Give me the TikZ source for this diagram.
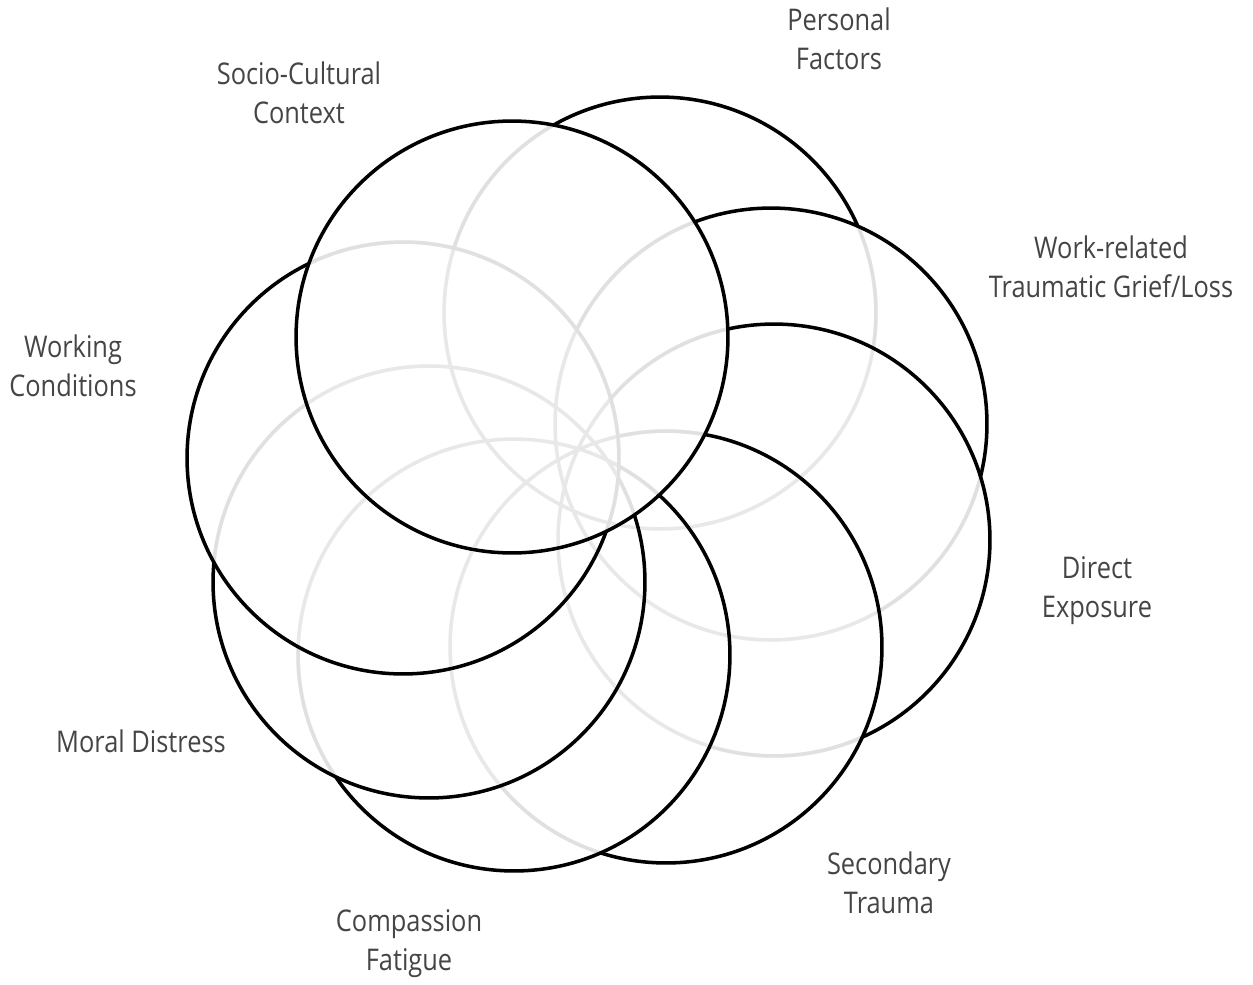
\documentclass[tikz,border=0pt]{standalone}
\usepackage{fontspec}
\setmainfont{Open Sans}[FakeStretch=0.85]
\definecolor{labelgray}{HTML}{454545}
\begin{document}
\begin{tikzpicture}[x=0.02cm,y=-0.02cm,
  ring/.style={circle, draw=black, line width=2pt, fill=white, fill opacity=0.88, draw opacity=1,
    minimum size=8.64cm, inner sep=0pt, outer sep=0pt},
  ghost/.style={line width=2pt, draw=black!9},
  lbl/.style={align=center, text=labelgray, font=\fontsize{17}{22.1}\selectfont, inner sep=0pt}]
\useasboundingbox (0,0) rectangle (1253,984);
% circles, bottom to top
\node[ring] (cPers) at (660,313) {};
\node[ring] (cWork) at (771,424) {};
\node[ring] (cDir)  at (774,540) {};
\node[ring] (cSec)  at (666,647) {};
\node[ring] (cComp) at (514,655) {};
\node[ring] (cMor)  at (429,582) {};
\node[ring] (cWc)   at (403,458) {};
\node[ring] (cSoc)  at (512,337) {};
% faint traces of hidden arcs
\begin{scope}[blend mode=darken]
\foreach \n in {cPers,cWork,cDir,cSec,cComp,cMor,cWc,cSoc}
  \draw[ghost] (\n.center) circle[radius=4.32cm];
\end{scope}
% labels
\node[lbl] (lPers) at (839,39)  {Personal\\Factors};
\node[lbl] (lSoc)  at (299,93)  {Socio-Cultural\\Context};
\node[lbl] (lWork) at (1111,267) {Work-related\\Traumatic Grief/Loss};
\node[lbl] (lWc)   at (73,366)  {Working\\Conditions};
\node[lbl] (lDir)  at (1097,591) {Direct\\Exposure};
\node[lbl] (lMor)  at (141,741) {Moral Distress};
\node[lbl] (lSec)  at (889,883) {Secondary\\Trauma};
\node[lbl] (lComp) at (409,944) {Compassion\\Fatigue};
\end{tikzpicture}
\end{document}
